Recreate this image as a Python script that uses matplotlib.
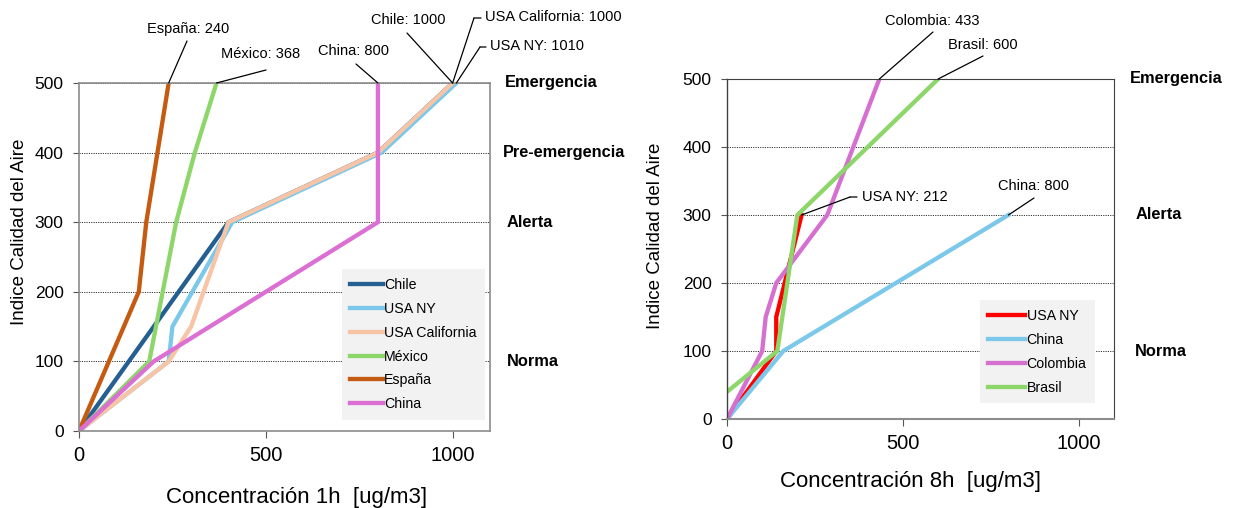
import matplotlib
matplotlib.use("Agg")
import matplotlib.pyplot as plt

plt.rcParams['font.family'] = ['Liberation Sans', 'DejaVu Sans']

# ---------------- data: left chart (1h) ----------------
left_names = ["Chile", "USA NY", "USA California", "México", "España", "China"]
chile_x = [0, 400, 800, 1000]
chile_y = [0, 300, 400, 500]
usany_x = [0, 240, 250, 410, 810, 1010]
usany_y = [0, 100, 150, 300, 400, 500]
usaca_x = [0, 240, 300, 400, 800, 1000]
usaca_y = [0, 100, 150, 300, 400, 500]
mexico_x = [0, 188, 260, 310, 368]
mexico_y = [0, 100, 300, 400, 500]
espana_x = [0, 160, 180, 210, 240]
espana_y = [0, 200, 300, 400, 500]
china1_x = [0, 200, 800, 800, 800]
china1_y = [0, 100, 300, 400, 500]
left_colors = ["#255e91", "#7cc8ea", "#f7c4a6", "#8dd66a", "#c55a11", "#dc6fd3"]

# ---------------- data: right chart (8h) ----------------
right_names = ["USA NY", "China", "Colombia", "Brasil"]
ny8_x = [0, 140, 140, 212]
ny8_y = [0, 100, 150, 300]
china8_x = [0, 160, 800]
china8_y = [0, 100, 300]
colombia_x = [0, 100, 110, 140, 285, 433]
colombia_y = [0, 100, 150, 200, 300, 500]
brasil_x = [0, 143, 200, 600]
brasil_y = [40, 100, 300, 500]
right_colors = ["#ff0000", "#7cc8ea", "#d670d0", "#8dd66a"]

left_levels = ["Emergencia", "Pre-emergencia", "Alerta", "Norma"]
left_level_vals = [500, 400, 300, 100]
right_levels = ["Emergencia", "Alerta", "Norma"]
right_level_vals = [500, 300, 100]
xticks = [0, 500, 1000]
yticks = [0, 100, 200, 300, 400, 500]

W, H = 1233, 508
fig = plt.figure(figsize=(W / 100, H / 100), dpi=100)

L_box = (79, 431, 411, 348)   # left px, bottom px (from top), width, height
R_box = (727, 419, 387, 340)
axL = fig.add_axes([L_box[0] / W, 1 - L_box[1] / H, L_box[2] / W, L_box[3] / H])
axR = fig.add_axes([R_box[0] / W, 1 - R_box[1] / H, R_box[2] / W, R_box[3] / H])

def style(ax, spine_cols, ysize, xsize):
    ax.set_xlim(0, 1100)
    ax.set_ylim(0, 500)
    ax.set_xticks(xticks)
    ax.set_yticks(yticks)
    ax.tick_params(axis='x', labelsize=xsize, direction='out', length=5, width=0.8,
                   color='#555555', labelcolor='black', pad=6)
    ax.tick_params(axis='y', labelsize=ysize, direction='out', length=4, width=0.8,
                   color='#555555', labelcolor='black', pad=7)
    ax.yaxis.grid(True, linestyle=(0, (1.2, 1.2)), color='#333333', linewidth=0.7)
    ax.set_axisbelow(True)
    for side, (c, lw) in spine_cols.items():
        ax.spines[side].set_color(c)
        ax.spines[side].set_linewidth(lw)

lw = 3.1
left_series = [(chile_x, chile_y), (usany_x, usany_y), (usaca_x, usaca_y),
               (mexico_x, mexico_y), (espana_x, espana_y), (china1_x, china1_y)]
for (x, y), n, c in zip(left_series, left_names, left_colors):
    axL.plot(x, y, color=c, lw=lw, label=n, solid_joinstyle='miter')

right_series = [(ny8_x, ny8_y), (china8_x, china8_y), (colombia_x, colombia_y), (brasil_x, brasil_y)]
for (x, y), n, c in zip(right_series, right_names, right_colors):
    axR.plot(x, y, color=c, lw=lw, label=n, solid_joinstyle='miter')

style(axL, {s: ('#8c8c8c', 1.2) for s in ['left', 'right', 'top', 'bottom']}, 12.5, 14.5)
style(axR, {'left': ('#404040', 1.0), 'right': ('#404040', 0.8), 'top': ('#404040', 0.8),
            'bottom': ('#8c8c8c', 1.5)}, 12.5, 14.5)

# axis titles
fig.text(297 / W, 1 - 497 / H, "Concentración 1h  [ug/m3]", fontsize=16, ha='center', va='center')
fig.text(910 / W, 1 - 482 / H, "Concentración 8h  [ug/m3]", fontsize=16, ha='center', va='center')
fig.text(20 / W, 1 - 232 / H, "Indice Calidad del Aire", fontsize=13.5, rotation=90,
         ha='center', va='center')
fig.text(655 / W, 1 - 236 / H, "Indice Calidad del Aire", fontsize=13.5, rotation=90,
         ha='center', va='center')

for ax, anchor, hl in [(axL, (0.988, 0.032), 2.3), (axR, (0.951, 0.047), 2.6)]:
    leg = ax.legend(loc='lower right', bbox_to_anchor=anchor, borderaxespad=0,
                    fontsize=10.2, frameon=True, fancybox=False, handlelength=hl,
                    handletextpad=0.1, labelspacing=0.7, borderpad=0.6)
    leg.get_frame().set_facecolor('#f2f2f2')
    leg.get_frame().set_edgecolor('none')
    leg.get_frame().set_alpha(1)

# level labels (x given in figure pixels, y in data)
left_level_px = [505, 503, 507, 507]
right_level_px = [1130, 1136, 1135]
for ax, box, names, vals, pxs in [(axL, L_box, left_levels, left_level_vals, left_level_px),
                                  (axR, R_box, right_levels, right_level_vals, right_level_px)]:
    for name, v, px in zip(names, vals, pxs):
        ax.text((px - box[0]) / box[2], v, name, transform=ax.get_yaxis_transform(),
                fontsize=11.8, fontweight='bold', ha='left', va='center', clip_on=False)

def P(x, y):
    return (x, H - y)

def label(ax, xs, ys, text, knee, tpos, ha='center', elbow=None):
    pt = (xs[-1], ys[-1])
    ax.annotate('', xy=pt, xycoords='data', xytext=P(*knee), textcoords='figure pixels',
                arrowprops=dict(arrowstyle='-', color='black', lw=0.9, shrinkA=0, shrinkB=0))
    if elbow is not None:
        ax.annotate('', xy=P(*knee), xycoords='figure pixels', xytext=P(*elbow),
                    textcoords='figure pixels',
                    arrowprops=dict(arrowstyle='-', color='black', lw=0.9, shrinkA=0, shrinkB=0))
    fig.text(tpos[0] / W, 1 - tpos[1] / H, text, fontsize=10.5, ha=ha, va='center')

label(axL, espana_x, espana_y, "España: 240", (187, 41), (188, 29))
label(axL, mexico_x, mexico_y, "México: 368", (266, 70), (261, 54))
label(axL, china1_x, china1_y, "China: 800", (356, 64), (354, 51))
label(axL, chile_x, chile_y, "Chile: 1000", (407, 33), (408, 20))
label(axL, usaca_x, usaca_y, "USA California: 1000", (474, 18), (485, 17), ha='left', elbow=(481, 18))
label(axL, usany_x, usany_y, "USA NY: 1010", (480, 47), (490, 46), ha='left', elbow=(486, 47))

label(axR, colombia_x, colombia_y, "Colombia: 433", (933, 32), (932, 21))
label(axR, brasil_x, brasil_y, "Brasil: 600", (983, 56), (983, 45))
label(axR, ny8_x, ny8_y, "USA NY: 212", (850, 197), (862, 197), ha='left', elbow=(857, 197))
label(axR, china8_x, china8_y, "China: 800", (1034, 198), (1034, 186))

fig.savefig("out.png", dpi=100)
